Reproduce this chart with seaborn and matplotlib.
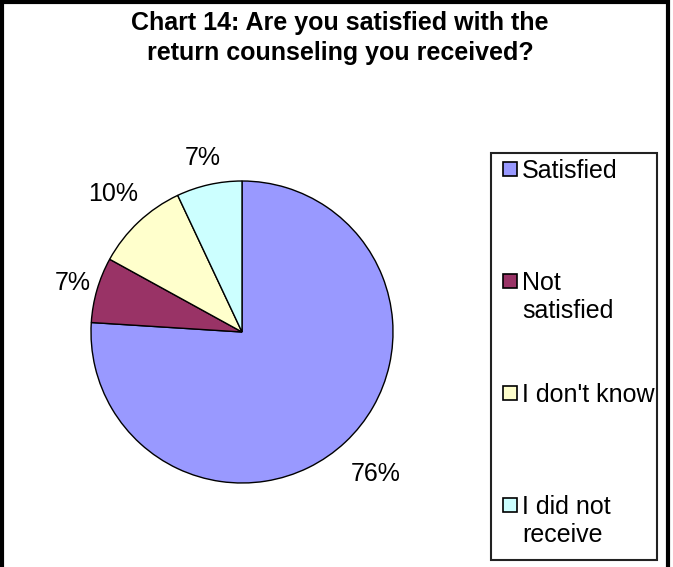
import matplotlib
matplotlib.use('Agg')
import matplotlib.pyplot as plt
import matplotlib.patches as mpatches
import numpy as np
import seaborn as sns

# ── Data ────────────────────────────────────
categories = ['Satisfied', 'Not\nsatisfied', "I don't know", 'I did not\nreceive']
percents   = [76, 7, 10, 7]
colors     = ['#9999FF', '#993366', '#FFFFCC', '#CCFFFF']
pct_labels = [f'{p}%' for p in percents]

TITLE = 'Chart 14: Are you satisfied with the\nreturn counseling you received?'

# ── Style ───────────────────────────────────
sns.set_theme(style='white')
plt.rcParams['font.family'] = ['Liberation Sans', 'DejaVu Sans']

W, H = 673, 567
fig = plt.figure(figsize=(W / 100, H / 100), dpi=100)
fig.patch.set_facecolor('white')

def fx(px):
    return px / W

def fy(py):
    return 1 - py / H

# outer frame (bottom edge runs off the image)
fig.add_artist(mpatches.Rectangle((fx(2), fy(600)), fx(666), (600 - 2) / H,
                                  transform=fig.transFigure, fill=False,
                                  edgecolor='black', lw=3))

# title
fig.text(fx(340), fy(38), TITLE, ha='center', va='center', fontsize=18,
         fontweight='bold', color='black', linespacing=1.3)

# ── Pie ─────────────────────────────────────
cx, cy, r, pad = 242, 332, 151, 1.5
ax = fig.add_axes([fx(cx - r * pad), fy(cy + r * pad), 2 * r * pad / W, 2 * r * pad / H])
wedges, texts = ax.pie(percents, labels=pct_labels, colors=colors,
                       startangle=90, counterclock=False, labeldistance=1.2,
                       wedgeprops={'edgecolor': 'black', 'linewidth': 1.0},
                       textprops={'fontsize': 18, 'color': 'black'})
ax.set_xlim(-pad, pad)
ax.set_ylim(-pad, pad)
ax.set_aspect('equal')
ax.axis('off')

label_dist = [1.29, 1.17, 1.25, 1.18]
for w, t, d in zip(wedges, texts, label_dist):
    ang = np.deg2rad((w.theta1 + w.theta2) / 2)
    t.set_position((d * np.cos(ang), d * np.sin(ang)))
    t.set_ha('center')
    t.set_va('center')

# ── Legend (Excel style, entries on an even grid) ──
fig.add_artist(mpatches.Rectangle((fx(491), fy(560)), fx(657 - 491), (560 - 153) / H,
                                  transform=fig.transFigure, fill=False,
                                  edgecolor='#222222', lw=1.5))
first_y, step = 169, 112
for i, (name, col) in enumerate(zip(categories, colors)):
    y = first_y + i * step
    fig.add_artist(mpatches.Rectangle((fx(503), fy(y + 7)), fx(14), 14 / H,
                                      transform=fig.transFigure, facecolor=col,
                                      edgecolor='black', lw=1.2))
    fig.text(fx(522), fy(y - 10), name, ha='left', va='top', fontsize=18,
             color='black', linespacing=1.2)

plt.savefig('out.png', dpi=100)
plt.close()
